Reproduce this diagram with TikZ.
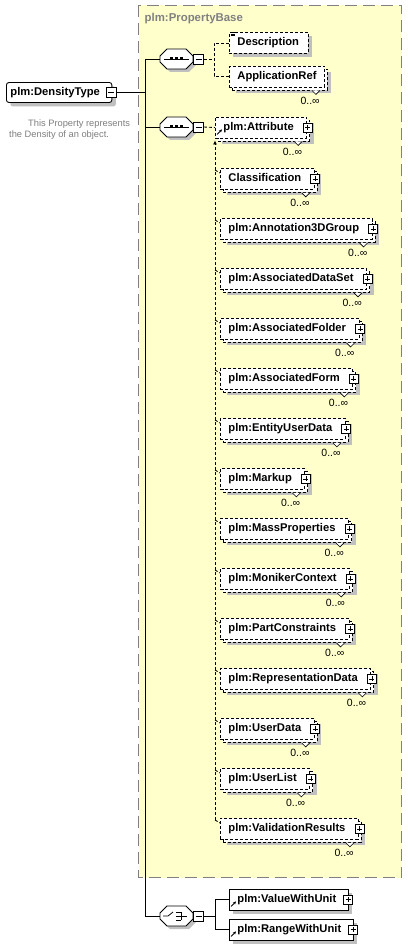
\documentclass[tikz,border=0pt]{standalone}
\usepackage{fontspec}
\setmainfont{Liberation Sans}
\usetikzlibrary{shadows,arrows.meta}
\definecolor{ybg}{HTML}{FFFFCC}
\definecolor{shd}{HTML}{C0C0C0}
\definecolor{frm}{HTML}{808080}
\definecolor{doccol}{HTML}{7F7F7F}
\tikzset{
  efont/.style={font=\bfseries\fontsize{11.2}{13}\selectfont},
  ebox/.style={efont, draw=black, fill=white, line width=0.9pt, inner xsep=0pt, inner ysep=0pt, minimum height=21pt, text height=8.3pt, text depth=2.4pt},
  optbox/.style={ebox, dash pattern=on 3pt off 2pt},
  shadowA/.style={general shadow={shadow xshift=4pt, shadow yshift=-4pt, fill=shd, draw=none}},
  stackbox/.style={general shadow={shadow xshift=7pt, shadow yshift=-6pt, fill=shd, draw=none}, general shadow={shadow xshift=3pt, shadow yshift=-3pt, fill=white, draw=black, line width=0.9pt, dash pattern=on 3pt off 2pt}},
  pmbox/.style={draw=black, fill=white, solid, line width=0.7pt, minimum size=9pt, inner sep=0pt},
  plusnode/.style={pmbox, path picture={\draw[line width=0.7pt] ([yshift=-2pt]path picture bounding box.north) -- ([yshift=2pt]path picture bounding box.south) ([xshift=2pt]path picture bounding box.west) -- ([xshift=-2pt]path picture bounding box.east);}},
  minusnode/.style={pmbox, minimum size=10pt, path picture={\draw[line width=0.7pt] ([xshift=2pt]path picture bounding box.west) -- ([xshift=-2pt]path picture bounding box.east);}},
  cnt/.style={font=\fontsize{10.5}{12}\selectfont, inner sep=0pt},
  notch/.style={draw=black, fill=white, solid, line width=0.6pt},
  sconn/.style={draw=black, line width=0.9pt},
  dconn/.style={draw=black, line width=0.9pt, dash pattern=on 3pt off 2pt},
  refarrow/.style={draw=black, solid, line width=0.8pt, -{Stealth[length=3pt,width=3pt]}},
  octnode/.style={minimum width=33pt, minimum height=20pt, inner sep=0pt},
  rootbox/.style={ebox, rounded corners=2.5pt, shadowA, minimum height=20pt},
  grpframe/.style={draw=frm, fill=ybg, line width=1pt, dash pattern=on 12pt off 6pt},
  grptitle/.style={font=\bfseries\fontsize{11.4}{13}\selectfont, text=frm, inner sep=0pt},
  docnode/.style={font=\fontsize{9.3}{11}\selectfont, text=doccol, inner sep=0pt, align=left}
}
\newcommand\seqoct[3]{%
\begin{scope}[shift={(0,#2)}]
 \fill[shd] (163,0) -- (170,-7) -- (189,-7) -- (196,0) -- (196,6) -- (189,13) -- (170,13) -- (163,6) -- cycle;
 \draw[fill=white, line width=0.9pt] (160,-3) -- (167,-10) -- (186,-10) -- (193,-3) -- (193,3) -- (186,10) -- (167,10) -- (160,3) -- cycle;
 #3
 \node[octnode] (#1) at (176.5,0) {};
 \node[minusnode] (#1m) at (198.5,0) {};
\end{scope}}
\newcommand\seqicon{\draw[line width=0.9pt] (164,0) -- (189,0);
 \fill (169.5,-1.5) rectangle ++(3,3); \fill (174.5,-1.5) rectangle ++(3,3); \fill (179.5,-1.5) rectangle ++(3,3);}
\newcommand\choiceicon{\draw[line width=0.8pt] (163,0) -- (168,0) -- (173,-4);
 \draw[line width=0.8pt] (176,-4) -- (181,-4) (176,0) -- (187,0) (176,4) -- (181,4) (181,-4) -- (181,4);}
\newcommand\stackextras[1]{%
 \draw[notch] ([xshift=-13pt,yshift=-3pt]#1.south east) -- ++(4,4) -- ++(4,-4);
 \node[cnt, anchor=east] (#1c) at ([xshift=-5pt,yshift=-13pt]#1.south east) {0..∞};}
\newcommand\subel[3]{%
 \node[optbox, stackbox, anchor=north west] (#1) at (220,#2) {\kern8pt#3\kern13pt};
 \node[plusnode] (#1p) at ([xshift=0.5pt]#1.east) {};
 \stackextras{#1}
 \coordinate (#1t) at (215,#2+2);
 \draw[dconn] (#1t) -- ([yshift=-5pt]#1.north west);}
\begin{document}
\begin{tikzpicture}[x=1pt,y=-1pt]
\useasboundingbox (0,0) rectangle (407,949);
\fill[white] (0,0) rectangle (407,949);
% group box
\draw[grpframe] (138.5,5.5) rectangle (401.5,877.5);
\node[grptitle, anchor=west] (pbtitle) at (144.5,19) {plm:PropertyBase};
% root
\node[rootbox, anchor=west] (root) at (6,92.5) {\kern4pt plm:DensityType\kern12pt};
\node[minusnode] (rootm) at ([xshift=-1pt]root.east) {};
\node[docnode, anchor=north west] (rootdoc) at (9,119.5) {\hspace*{19pt}This Property represents\\the Density of an object.};
% compositors
\seqoct{sA}{59}{\seqicon}
\seqoct{sB}{127}{\seqicon}
\seqoct{cC}{916}{\choiceicon}
% main trunk
\coordinate (mtop) at (145,59);
\coordinate (mroot) at (145,92.5);
\coordinate (mseq) at (145,127);
\coordinate (mbot) at (145,916);
\draw[sconn] (mtop) -- (mbot);
\draw[sconn] (rootm.east) -- (mroot);
\draw[sconn] (mtop) -- (sA.west);
\draw[sconn] (mseq) -- (sB.west);
\draw[sconn] (mbot) -- (cC.west);
% sequence 1
\node[optbox, shadowA, anchor=west] (desc) at (229,43) {\kern8pt Description\kern9pt};
\draw[solid, line width=0.6pt] ([xshift=1.5pt,yshift=-0.5pt]desc.north west) -- ++(4,0)
  ([xshift=1.5pt,yshift=-2pt]desc.north west) -- ++(4,0)
  ([xshift=1.5pt,yshift=-3.5pt]desc.north west) -- ++(4,0);
\node[optbox, stackbox, anchor=west] (appref) at (229,76.5) {\kern8pt ApplicationRef\kern8pt};
\stackextras{appref}
\coordinate (jA) at (214,59);
\draw[dconn] (sAm.east) -- (jA);
\draw[dconn] (desc.west) -| (jA);
\draw[dconn] (appref.west) -| (jA);
% sequence 2
\node[optbox, stackbox, anchor=west] (attr) at (215,127.5) {\kern8pt plm:Attribute\kern13pt};
\node[plusnode] (attrp) at ([xshift=0.5pt]attr.east) {};
\stackextras{attr}
\draw[refarrow] ([xshift=2pt,yshift=4pt]attr.south west) -- ++(5,-5);
\draw[dconn] (sBm.east) -- (attr.west);
\subel{cl}{168}{Classification}
\subel{aa}{218}{plm:Annotation3DGroup}
\subel{ads}{268}{plm:AssociatedDataSet}
\subel{afo}{318}{plm:AssociatedFolder}
\subel{afm}{368}{plm:AssociatedForm}
\subel{eud}{418}{plm:EntityUserData}
\subel{mk}{468}{plm:Markup}
\subel{mp}{518}{plm:MassProperties}
\subel{mc}{568}{plm:MonikerContext}
\subel{pc}{618}{plm:PartConstraints}
\subel{rd}{668}{plm:RepresentationData}
\subel{ud}{718}{plm:UserData}
\subel{ul}{768}{plm:UserList}
\subel{vr}{818}{plm:ValidationResults}
\coordinate (vbot) at (215,820);
\draw[dconn, -{Latex[length=4pt,width=4pt]}] (vbot) -- ([yshift=-2pt]attr.south west);
% choice
\node[ebox, shadowA, anchor=west] (vwu) at (229,899.5) {\kern8pt plm:ValueWithUnit\kern12pt};
\node[plusnode] (vwup) at ([xshift=-0.5pt]vwu.east) {};
\draw[refarrow] ([xshift=2pt,yshift=4pt]vwu.south west) -- ++(5,-5);
\node[ebox, shadowA, anchor=west] (rwu) at (229,929.5) {\kern8pt plm:RangeWithUnit\kern12pt};
\node[plusnode] (rwup) at ([xshift=-0.5pt]rwu.east) {};
\draw[refarrow] ([xshift=2pt,yshift=4pt]rwu.south west) -- ++(5,-5);
\coordinate (jC) at (215,916);
\draw[sconn] (cCm.east) -- (jC);
\draw[sconn] (vwu.west) -| (jC);
\draw[sconn] (rwu.west) -| (jC);
\end{tikzpicture}
\end{document}
